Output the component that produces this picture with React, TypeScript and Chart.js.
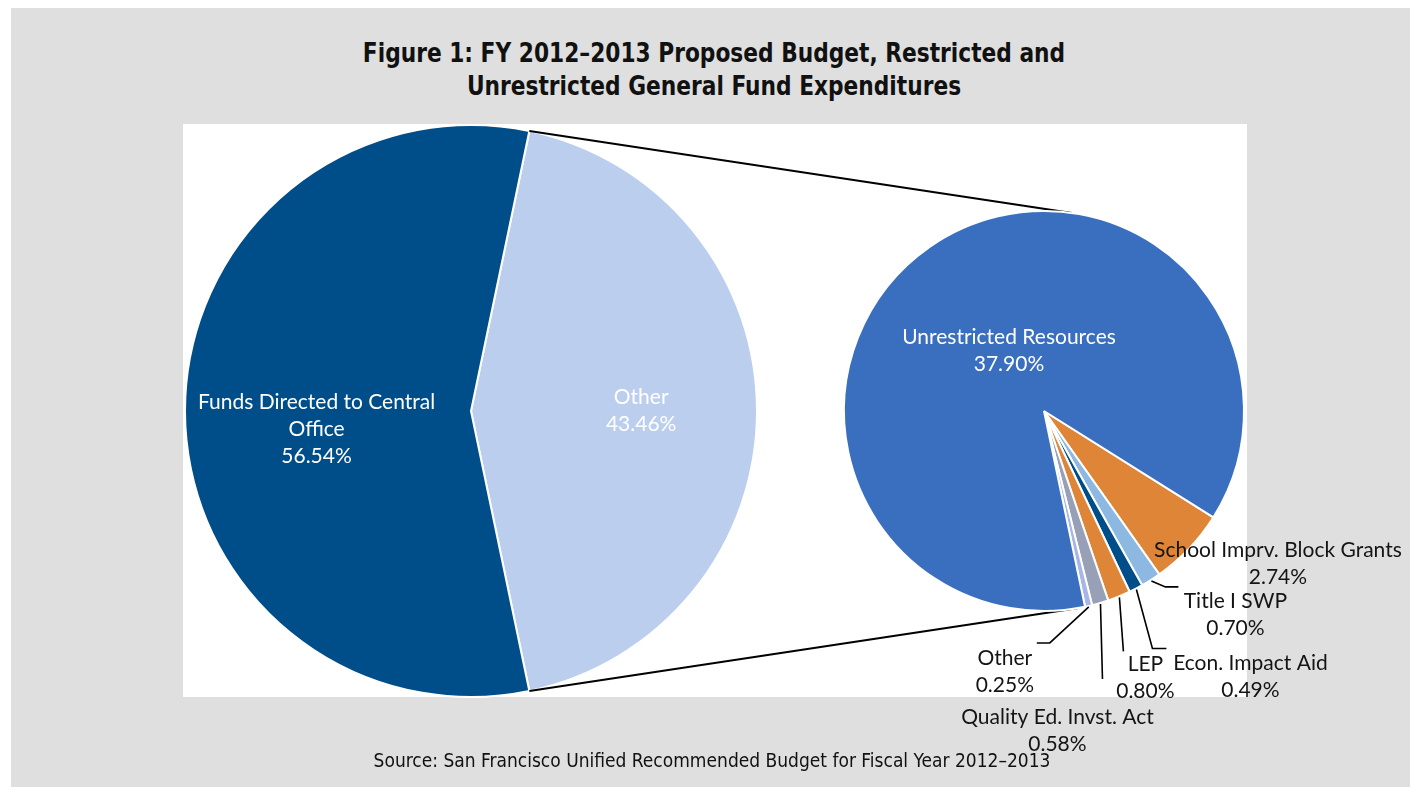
import React, { useEffect, useRef } from "react";
import { Chart, registerables } from "chart.js";

Chart.register(...registerables);

// ---------- data ----------
const TITLE_LINES = [
  "Figure 1: FY 2012–2013 Proposed Budget, Restricted and",
  "Unrestricted General Fund Expenditures",
];
const SOURCE_TEXT =
  "Source: San Francisco Unified Recommended Budget for Fiscal Year 2012–2013";

const mainLabels = ["Other", "Funds Directed to Central Office"];
const mainValues = [43.46, 56.54];
const mainColors = ["#BCCEEE", "#004E89"];

const subLabels = [
  "School Imprv. Block Grants",
  "Title I SWP",
  "Econ. Impact Aid",
  "LEP",
  "Quality Ed. Invst. Act",
  "Other",
  "Unrestricted Resources",
];
const subValues = [2.74, 0.7, 0.49, 0.8, 0.58, 0.25, 37.9];
const subColors = [
  "#DE8537",
  "#8DB8E2",
  "#004E89",
  "#DE8537",
  "#98A0B8",
  "#A7B6E6",
  "#3A6FC0",
];

// ---------- layout (wrapper coordinates) ----------
const W = 1399;
const H = 779;
const BW = 2;
const MAIN = { cx: 460, cy: 403, r: 286 };
const SUB = { cx: 1033, cy: 403, r: 200, rotation: 122.1 };
const CONNECT = { topDeg: 8, bottomDeg: 170 };
const FONT = "21px Lato, 'Open Sans', sans-serif";
const LINE_H = 27;

const mainLabelPos = [
  { f: 0.595, dx: 0, dy: 0, wrap: 270 },
  { f: 0.54, dx: 0, dy: 18, wrap: 270 },
];
const subInsidePos = { index: 6, f: 0.35, dx: 5, dy: -3, wrap: 320 };
const subOutside = [
  { leader: [] as number[][], label: [88, 15] },
  { leader: [[14, 6], [27, 6]], label: [84, 34] },
  { leader: [[16, 59], [30, 59]], label: [114, 87] },
  { leader: [[4, 54]], label: [26, 80] },
  { leader: [[2, 75]], label: [-43, 127] },
  { leader: [[-39, 36], [-52, 36]], label: [-84, 65] },
];

const pct = (v: number) => v.toFixed(2) + "%";

function wrapText(ctx: CanvasRenderingContext2D, text: string, maxW: number) {
  const words = text.split(" ");
  const lines: string[] = [];
  let cur = "";
  for (const w of words) {
    const t = cur ? cur + " " + w : w;
    if (ctx.measureText(t).width > maxW && cur) {
      lines.push(cur);
      cur = w;
    } else cur = t;
  }
  if (cur) lines.push(cur);
  return lines;
}

function drawBlock(ctx: CanvasRenderingContext2D, lines: string[], x: number, y: number) {
  const n = lines.length;
  lines.forEach((l, i) => ctx.fillText(l, x, y + (i - (n - 1) / 2) * LINE_H));
}

function padFor(c: { cx: number; cy: number; r: number }) {
  const half = c.r + BW / 2;
  return {
    left: c.cx - half,
    top: c.cy - half,
    right: W - (c.cx + half),
    bottom: H - (c.cy + half),
  };
}

export default function App() {
  const refA = useRef<HTMLCanvasElement>(null);
  const refB = useRef<HTMLCanvasElement>(null);

  useEffect(() => {
    if (!refA.current || !refB.current) return;
    const total = mainValues.reduce((a, b) => a + b, 0);
    const mainRotation = 90 - (mainValues[0] / total) * 180;

    const mainLabelPlugin = {
      id: "mainLabels",
      afterDatasetsDraw(chart: any) {
        const ctx = chart.ctx as CanvasRenderingContext2D;
        const arcs = chart.getDatasetMeta(0).data;
        ctx.save();
        ctx.font = FONT;
        ctx.fillStyle = "#ffffff";
        ctx.textAlign = "center";
        ctx.textBaseline = "middle";
        arcs.forEach((arc: any, i: number) => {
          const p = arc.getProps(["x", "y", "startAngle", "endAngle", "outerRadius"], true);
          const mid = (p.startAngle + p.endAngle) / 2;
          const cfg = mainLabelPos[i];
          const x = p.x + Math.cos(mid) * p.outerRadius * cfg.f + cfg.dx;
          const y = p.y + Math.sin(mid) * p.outerRadius * cfg.f + cfg.dy;
          const lines = [...wrapText(ctx, mainLabels[i], cfg.wrap), pct(mainValues[i])];
          drawBlock(ctx, lines, x, y);
        });
        ctx.restore();
      },
    };

    const chartA = new Chart(refA.current, {
      type: "pie",
      data: {
        labels: mainLabels,
        datasets: [
          {
            data: mainValues,
            backgroundColor: mainColors,
            borderColor: "#ffffff",
            borderWidth: BW,
          },
        ],
      },
      options: {
        responsive: false,
        animation: false,
        events: [],
        rotation: mainRotation,
        layout: { padding: padFor(MAIN) },
        plugins: { legend: { display: false }, tooltip: { enabled: false }, title: { display: false } },
      },
      plugins: [mainLabelPlugin],
    });

    const subPlugin = {
      id: "subLabels",
      beforeDatasetsDraw(chart: any) {
        const ctx = chart.ctx as CanvasRenderingContext2D;
        const other = chartA.getDatasetMeta(0).data[0] as any;
        const p = other.getProps(["x", "y", "startAngle", "endAngle", "outerRadius"], true);
        const meta = chart.getDatasetMeta(0).data[0] as any;
        const q = meta.getProps(["x", "y", "outerRadius"], true);
        const toRad = (d: number) => ((d - 90) * Math.PI) / 180;
        const a1 = toRad(CONNECT.topDeg);
        const a2 = toRad(CONNECT.bottomDeg);
        ctx.save();
        ctx.strokeStyle = "#000000";
        ctx.lineWidth = 2;
        ctx.beginPath();
        ctx.moveTo(p.x + Math.cos(p.startAngle) * p.outerRadius, p.y + Math.sin(p.startAngle) * p.outerRadius);
        ctx.lineTo(q.x + Math.cos(a1) * q.outerRadius, q.y + Math.sin(a1) * q.outerRadius);
        ctx.moveTo(p.x + Math.cos(p.endAngle) * p.outerRadius, p.y + Math.sin(p.endAngle) * p.outerRadius);
        ctx.lineTo(q.x + Math.cos(a2) * q.outerRadius, q.y + Math.sin(a2) * q.outerRadius);
        ctx.stroke();
        ctx.restore();
      },
      afterDatasetsDraw(chart: any) {
        const ctx = chart.ctx as CanvasRenderingContext2D;
        const arcs = chart.getDatasetMeta(0).data;
        ctx.save();
        ctx.font = FONT;
        ctx.textAlign = "center";
        ctx.textBaseline = "middle";
        arcs.forEach((arc: any, i: number) => {
          const p = arc.getProps(["x", "y", "startAngle", "endAngle", "outerRadius"], true);
          const mid = (p.startAngle + p.endAngle) / 2;
          if (i === subInsidePos.index) {
            ctx.fillStyle = "#ffffff";
            const x = p.x + Math.cos(mid) * p.outerRadius * subInsidePos.f + subInsidePos.dx;
            const y = p.y + Math.sin(mid) * p.outerRadius * subInsidePos.f + subInsidePos.dy;
            drawBlock(ctx, [...wrapText(ctx, subLabels[i], subInsidePos.wrap), pct(subValues[i])], x, y);
            return;
          }
          const cfg = subOutside[i];
          if (!cfg) return;
          const sx = p.x + Math.cos(mid) * (p.outerRadius + 1);
          const sy = p.y + Math.sin(mid) * (p.outerRadius + 1);
          if (cfg.leader.length) {
            ctx.strokeStyle = "#000000";
            ctx.lineWidth = 1.6;
            ctx.beginPath();
            ctx.moveTo(sx, sy);
            cfg.leader.forEach(([dx, dy]) => ctx.lineTo(sx + dx, sy + dy));
            ctx.stroke();
          }
          ctx.fillStyle = "#141414";
          drawBlock(ctx, [subLabels[i], pct(subValues[i])], sx + cfg.label[0], sy + cfg.label[1]);
        });
        ctx.restore();
      },
    };

    const chartB = new Chart(refB.current, {
      type: "pie",
      data: {
        labels: subLabels,
        datasets: [
          {
            data: subValues,
            backgroundColor: subColors,
            borderColor: "#ffffff",
            borderWidth: BW,
          },
        ],
      },
      options: {
        responsive: false,
        animation: false,
        events: [],
        rotation: SUB.rotation,
        layout: { padding: padFor(SUB) },
        plugins: { legend: { display: false }, tooltip: { enabled: false }, title: { display: false } },
      },
      plugins: [subPlugin],
    });

    return () => {
      chartB.destroy();
      chartA.destroy();
    };
  }, []);

  return (
    <div
      style={{
        position: "fixed",
        left: 11,
        top: 8,
        width: W,
        height: H,
        background: "#DFDFDF",
        overflow: "hidden",
      }}
    >
      <div
        style={{
          position: "absolute",
          left: 172,
          top: 116,
          width: 1064,
          height: 573,
          background: "#ffffff",
        }}
      />
      <div
        style={{
          position: "absolute",
          left: 0,
          top: 28,
          width: 1406,
          textAlign: "center",
          fontFamily: "'DejaVu Sans Condensed', sans-serif",
          fontWeight: "bold",
          fontSize: 27,
          lineHeight: "33px",
          color: "#111111",
          transform: "scaleX(0.895)",
          transformOrigin: "703px 0",
        }}
      >
        {TITLE_LINES.map((t) => (
          <div key={t}>{t}</div>
        ))}
      </div>
      <canvas ref={refA} width={W} height={H} style={{ position: "absolute", left: 0, top: 0 }} />
      <canvas ref={refB} width={W} height={H} style={{ position: "absolute", left: 0, top: 0 }} />
      <div
        style={{
          position: "absolute",
          left: 0,
          top: 740,
          width: 1402,
          textAlign: "center",
          fontFamily: "'DejaVu Sans Condensed', sans-serif",
          fontSize: 19,
          lineHeight: "24px",
          color: "#111111",
        }}
      >
        {SOURCE_TEXT}
      </div>
    </div>
  );
}
